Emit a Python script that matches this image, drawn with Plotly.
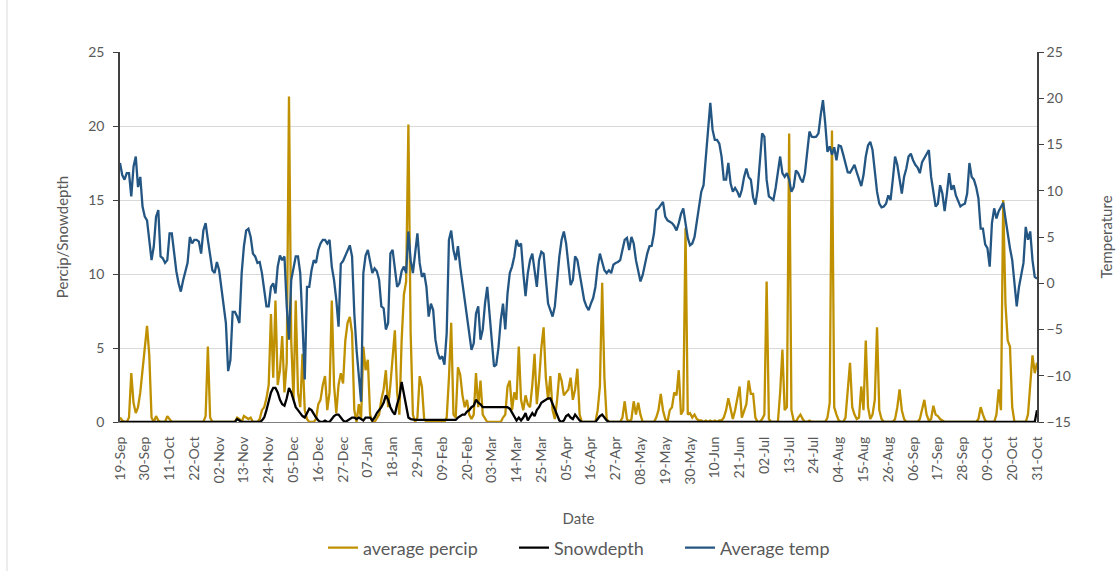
import pandas as pd
import plotly.graph_objects as go

# daily dates 19-Sep .. 31-Oct (next year), non-leap February
dates = pd.date_range("2017-09-19", "2018-10-31", freq="D")

tick_labels = ["19-Sep", "30-Sep", "11-Oct", "22-Oct", "02-Nov", "13-Nov", "24-Nov", "05-Dec",
               "16-Dec", "27-Dec", "07-Jan", "18-Jan", "29-Jan", "09-Feb", "20-Feb", "03-Mar",
               "14-Mar", "25-Mar", "05-Apr", "16-Apr", "27-Apr", "08-May", "19-May", "30-May",
               "10-Jun", "21-Jun", "02-Jul", "13-Jul", "24-Jul", "04-Aug", "15-Aug", "26-Aug",
               "06-Sep", "17-Sep", "28-Sep", "09-Oct", "20-Oct", "31-Oct"]

average_percip = [
    0.3, 0.1, 0, 0, 0.3, 3.3, 1.3, 0.6, 1.0, 2.0,
    3.5, 5.0, 6.5, 4.5, 0.3, 0, 0.4, 0.1, 0, 0,
    0, 0.4, 0.2, 0, 0, 0, 0, 0, 0, 0,
    0, 0, 0, 0, 0, 0, 0, 0, 0.4, 5.1,
    0.3, 0, 0, 0, 0, 0, 0, 0, 0, 0,
    0, 0, 0.3, 0.2, 0, 0.4, 0.3, 0.2, 0.3, 0,
    0, 0, 0.2, 0.8, 1.0, 1.6, 2.5, 7.3, 3.0, 8.2,
    2.5, 3.5, 5.8, 2.0, 4.0, 22.0, 5.5, 1.5, 8.2, 2.0,
    1.0, 4.6, 0.8, 0.2, 0, 0, 0, 0.2, 1.2, 1.5,
    2.5, 3.1, 0.8, 2.0, 8.2, 2.5, 0.6, 2.5, 3.3, 2.6,
    5.5, 6.7, 7.1, 6.0, 0.8, 0, 1.2, 0.2, 5.1, 3.5,
    4.2, 0.5, 0, 0, 0.3, 0.5, 1.5, 2.2, 3.5, 1.0,
    2.5, 4.5, 6.2, 2.0, 0.5, 5.5, 8.6, 9.5, 20.1, 6.0,
    0.5, 0, 0.3, 3.1, 2.4, 0.2, 0, 0, 0, 0,
    0, 0, 0, 0, 0, 0.3, 3.0, 6.7, 0.5, 0.3,
    3.7, 3.2, 1.8, 1.0, 1.5, 0.5, 0.2, 0.5, 3.3, 1.0,
    2.8, 0.5, 0.2, 0, 0, 0, 0, 0, 0, 0,
    0.3, 0.5, 2.4, 2.8, 0.8, 2.0, 1.5, 5.1, 1.5, 0.8,
    1.8, 1.2, 1.0, 2.5, 4.6, 1.2, 2.8, 5.0, 6.4, 3.0,
    1.5, 3.1, 0.8, 0.2, 1.5, 3.3, 2.8, 1.8, 2.0, 2.2,
    3.0, 1.5, 2.2, 3.6, 0.5, 0, 0, 0, 0, 0,
    0, 0, 0.8, 2.4, 9.4, 3.0, 0.2, 0, 0, 0,
    0, 0, 0, 0.3, 1.4, 0.2, 0, 0.2, 1.4, 0.5,
    1.3, 0.5, 0, 0, 0, 0, 0, 0, 0.3, 0.8,
    1.9, 0.8, 0.2, 0, 0.8, 1.0, 2.0, 1.8, 3.5, 0.5,
    0.8, 13.1, 0.5, 0.6, 0.3, 0.5, 0.2, 0.1, 0.1, 0,
    0.1, 0, 0.1, 0, 0.1, 0, 0.1, 0.1, 0.3, 0.8,
    1.6, 1.0, 0.2, 0.8, 1.5, 2.4, 0.3, 0.8, 1.2, 2.8,
    1.9, 1.9, 0.3, 0, 0, 0.2, 0.5, 9.5, 0.2, 0,
    0, 0, 0, 2.0, 4.9, 0.8, 1.0, 19.5, 0.8, 0.1,
    0, 0.3, 0.5, 0.2, 0, 0, 0.1, 0, 0, 0,
    0, 0, 0, 0, 0.3, 1.3, 19.7, 1.0, 0.5, 0.1,
    0, 0, 0.3, 2.5, 4.0, 1.0, 0.5, 0.2, 0.3, 2.4,
    0.8, 5.5, 1.0, 0.2, 0.5, 1.5, 6.4, 0.8, 0.2, 0,
    0, 0, 0, 0, 0.2, 1.0, 2.2, 0.8, 0.2, 0,
    0, 0, 0, 0, 0, 0.2, 0.8, 1.5, 0.5, 0.1,
    0.2, 1.1, 0.5, 0.4, 0.2, 0.1, 0, 0, 0, 0,
    0, 0, 0, 0, 0, 0, 0, 0, 0, 0,
    0, 0.2, 1.0, 0.5, 0.1, 0, 0, 0, 0, 0.5,
    2.2, 0.8, 15.0, 8.0, 5.5, 5.1, 1.0, 0, 0, 0,
    0, 0, 0, 0.5, 2.5, 4.5, 3.3, 4.0,
]

snowdepth = [
    0, 0, 0, 0, 0, 0, 0, 0, 0, 0,
    0, 0, 0, 0, 0, 0, 0, 0, 0, 0,
    0, 0, 0, 0, 0, 0, 0, 0, 0, 0,
    0, 0, 0, 0, 0, 0, 0, 0, 0, 0,
    0, 0, 0, 0, 0, 0, 0, 0, 0, 0,
    0, 0, 0.2, 0.1, 0, 0, 0, 0, 0, 0,
    0, 0, 0, 0.1, 0.3, 0.8, 1.5, 2.0, 2.3, 2.3,
    2.0, 1.5, 1.2, 1.1, 1.6, 2.3, 2.0, 1.5, 1.0, 0.8,
    0.6, 0.4, 0.3, 0.6, 0.9, 0.8, 0.5, 0.3, 0.1, 0,
    0, 0.1, 0, 0, 0.2, 0.4, 0.5, 0.5, 0.3, 0.1,
    0, 0.1, 0.2, 0.3, 0.3, 0.2, 0.3, 0.2, 0.1, 0.3,
    0.3, 0.3, 0.1, 0.3, 0.6, 0.8, 1.0, 1.3, 1.8, 1.5,
    1.0, 0.7, 0.5, 1.2, 1.7, 2.7, 1.9, 1.0, 0.3, 0.2,
    0.15, 0.15, 0.15, 0.15, 0.15, 0.15, 0.15, 0.15, 0.15, 0.15,
    0.15, 0.15, 0.15, 0.15, 0.15, 0.15, 0.15, 0.15, 0.15, 0.15,
    0.3, 0.4, 0.5, 0.5, 0.7, 0.8, 1.0, 1.1, 1.5, 1.3,
    1.2, 1.0, 1.0, 1.0, 1.0, 1.0, 1.0, 1.0, 1.0, 1.0,
    1.0, 1.0, 1.0, 0.9, 0.6, 0.3, 0.1, 0.3, 0.1, 0.3,
    0.6, 0.1, 0.4, 0.6, 0.4, 0.8, 1.0, 1.3, 1.4, 1.5,
    1.6, 1.6, 1.2, 0.8, 0.4, 0.1, 0, 0.1, 0.4, 0.5,
    0.3, 0.2, 0.5, 0.3, 0.1, 0, 0, 0, 0, 0,
    0, 0, 0.2, 0.4, 0.5, 0.3, 0.1, 0, 0, 0,
    0, 0, 0, 0, 0, 0, 0, 0, 0, 0,
    0, 0, 0, 0, 0, 0, 0, 0, 0, 0,
    0, 0, 0, 0, 0, 0, 0, 0, 0, 0,
    0, 0, 0, 0, 0, 0, 0, 0, 0, 0,
    0, 0, 0, 0, 0, 0, 0, 0, 0, 0,
    0, 0, 0, 0, 0, 0, 0, 0, 0, 0,
    0, 0, 0, 0, 0, 0, 0, 0, 0, 0,
    0, 0, 0, 0, 0, 0, 0, 0, 0, 0,
    0, 0, 0, 0, 0, 0, 0, 0, 0, 0,
    0, 0, 0, 0, 0, 0, 0, 0, 0, 0,
    0, 0, 0, 0, 0, 0, 0, 0, 0, 0,
    0, 0, 0, 0, 0, 0, 0, 0, 0, 0,
    0, 0, 0, 0, 0, 0, 0, 0, 0, 0,
    0, 0, 0, 0, 0, 0, 0, 0, 0, 0,
    0, 0, 0, 0, 0, 0, 0, 0, 0, 0,
    0, 0, 0, 0, 0, 0, 0, 0, 0, 0,
    0, 0, 0, 0, 0, 0, 0, 0, 0, 0,
    0, 0, 0, 0, 0, 0, 0, 0, 0, 0,
    0, 0, 0, 0, 0, 0, 0, 0.8,
]

average_temp = [
    13.0, 11.7, 11.2, 11.9, 11.9, 9.4, 12.6, 13.7, 10.4, 11.5,
    8.3, 7.2, 6.8, 4.7, 2.5, 4.0, 7.2, 7.9, 2.9, 2.7,
    2.2, 2.5, 5.4, 5.4, 3.2, 1.3, 0.0, -0.9, 0.3, 1.4,
    2.2, 5.0, 4.3, 4.7, 4.7, 4.5, 3.2, 5.7, 6.5, 4.7,
    2.9, 1.4, 1.1, 2.3, 1.4, -0.4, -2.5, -4.3, -9.5, -8.3,
    -3.1, -3.1, -3.6, -4.3, 1.1, 4.0, 5.7, 5.9, 5.0, 3.2,
    2.9, 2.2, 2.3, 1.1, -0.7, -2.5, -2.5, -0.4, 0.0, -1.1,
    1.8, 3.0, 2.5, 2.9, -2.5, -6.1, 0.35, 1.8, 2.9, 2.9,
    1.1, -4.3, -10.4, -0.4, -0.4, 1.4, 2.5, 2.2, 3.6, 4.3,
    4.7, 4.7, 4.3, 4.7, 1.8, 0.35, -1.8, -4.7, 2.1, 2.4,
    3.0, 3.6, 4.1, 2.9, -3.3, -7.2, -9.7, -12.8, 1.1, 3.0,
    3.6, 2.3, 1.1, 1.6, 1.3, 0.35, -2.5, -2.7, -5.0, -4.3,
    3.2, 3.6, 1.4, -0.4, 0.0, 1.3, 1.8, 1.1, 5.6, 2.5,
    1.1, 3.2, 5.4, 2.2, 0.7, 1.1, -0.4, -3.6, -2.2, -2.9,
    -6.1, -7.5, -8.2, -7.9, -8.8, -5.4, 4.7, 5.7, 3.6, 2.5,
    4.0, 1.8, 0.0, -2.2, -4.0, -5.8, -7.2, -6.5, -3.3, -2.5,
    -6.1, -5.0, -2.2, -0.4, -3.3, -6.1, -9.0, -8.8, -6.9, -4.0,
    -2.2, -5.0, -1.1, 1.1, 1.8, 2.9, 4.7, 4.0, 4.3, 1.1,
    -1.4, 1.1, 2.5, 3.2, 1.1, -0.4, 2.5, 3.4, 3.2, 0.35,
    -2.2, -2.9, -3.6, -2.5, 0.35, 2.9, 4.7, 5.6, 4.3, 2.2,
    -0.2, 0.35, 2.9, 2.5, 1.1, 0.0, -1.8, -2.5, -2.9, -2.2,
    -1.6, -0.4, 1.8, 3.2, 2.3, 1.4, 1.1, 1.4, 1.1, 2.0,
    2.2, 2.3, 2.5, 3.6, 4.7, 4.9, 3.6, 5.0, 4.3, 2.5,
    1.4, 0.2, 0.9, 2.2, 3.2, 4.0, 4.05, 5.4, 7.9, 8.1,
    8.5, 8.8, 7.2, 6.8, 6.65, 6.5, 6.2, 5.7, 6.5, 7.5,
    8.1, 6.5, 4.9, 4.1, 4.3, 5.0, 6.65, 8.3, 9.9, 10.6,
    13.3, 16.9, 19.5, 16.6, 15.5, 15.5, 15.1, 13.7, 11.2, 11.2,
    13.0, 10.8, 9.9, 10.3, 9.9, 9.3, 10.1, 11.5, 12.4, 11.5,
    11.2, 9.3, 8.5, 10.1, 13.3, 16.2, 15.85, 11.2, 9.4, 9.2,
    9.0, 10.3, 11.9, 13.7, 11.9, 11.5, 11.9, 11.2, 9.9, 10.4,
    12.2, 11.9, 11.3, 10.9, 11.9, 14.0, 16.4, 15.85, 15.8, 15.85,
    16.2, 18.2, 19.8, 17.3, 14.2, 14.8, 13.9, 14.7, 13.3, 14.9,
    14.8, 13.9, 12.8, 12.0, 11.95, 12.4, 12.8, 12.0, 11.2, 10.5,
    11.7, 13.7, 14.9, 15.3, 14.4, 11.9, 9.9, 8.6, 8.2, 8.3,
    8.6, 9.5, 9.0, 11.2, 13.7, 12.8, 11.0, 9.7, 11.5, 12.4,
    13.7, 14.0, 13.3, 12.8, 12.5, 11.9, 13.1, 13.5, 14.0, 14.4,
    11.5, 9.7, 8.3, 8.6, 10.6, 9.7, 7.8, 9.7, 11.9, 10.1,
    10.6, 9.5, 8.8, 8.3, 8.5, 8.6, 9.7, 13.0, 11.5, 11.2,
    10.4, 9.2, 5.9, 5.9, 4.2, 3.8, 1.8, 6.5, 8.1, 7.0,
    7.8, 8.3, 8.7, 7.0, 5.2, 3.8, 2.5, 0.35, -2.5, -0.4,
    1.1, 2.2, 6.1, 4.7, 5.6, 2.5, 0.7, 0.5,
]

n = len(dates)
assert len(average_percip) == n, len(average_percip)
assert len(snowdepth) == n, len(snowdepth)
assert len(average_temp) == n, len(average_temp)

FONT = "Lato, Open Sans, Liberation Sans, sans-serif"
GREY = "#595959"
W, H = 1119, 571
L, R, T, B = 120, 82, 52, 149
PW = W - L - R
PH = H - T - B


def px_x(px):
    return (px - L) / PW


def px_y(py):
    return (H - B - py) / PH


fig = go.Figure()
fig.add_trace(go.Scatter(x=dates, y=average_percip, name="average percip", mode="lines",
                         line=dict(color="#BF9000", width=2.3), legend="legend"))
fig.add_trace(go.Scatter(x=dates, y=snowdepth, name="Snowdepth", mode="lines",
                         line=dict(color="#000000", width=2.3), legend="legend2"))
fig.add_trace(go.Scatter(x=dates, y=average_temp, name="Average temp", mode="lines",
                         line=dict(color="#245683", width=2.3), yaxis="y2", legend="legend3"))

leg_common = dict(orientation="h", yanchor="middle", xanchor="left",
                  xref="container", yref="container",
                  font=dict(size=18, color=GREY, family=FONT), bgcolor="rgba(0,0,0,0)",
                  itemwidth=30)
LEG_Y = 1 - 548 / H

fig.update_layout(
    width=W, height=H,
    margin=dict(l=L, r=R, t=T, b=B, autoexpand=False),
    paper_bgcolor="white", plot_bgcolor="white",
    font=dict(family=FONT, size=13, color=GREY),
    showlegend=True,
    legend=dict(x=323 / W, y=LEG_Y, **leg_common),
    legend2=dict(x=514 / W, y=LEG_Y, **leg_common),
    legend3=dict(x=680 / W, y=LEG_Y, **leg_common),
    xaxis=dict(
        type="date", range=[dates[0], dates[-1]], automargin=False,
        tickvals=list(dates[::11]), ticktext=tick_labels, tickangle=-90,
        tickfont=dict(size=14, color=GREY), ticklabelstandoff=8,
        showgrid=False, zeroline=False,
        showline=True, linecolor="#7f7f7f", linewidth=1,
        ticks="",
        title=dict(text="Date", font=dict(size=15, color=GREY), standoff=29),
    ),
    yaxis=dict(
        range=[0, 25], dtick=5, tickfont=dict(size=14, color=GREY), automargin=False,
        ticklabelstandoff=6,
        showgrid=True, gridcolor="#D9D9D9", gridwidth=1, zeroline=False,
        showline=True, linecolor="#404040", linewidth=1.5,
        ticks="outside", ticklen=5, tickcolor="#404040",
        title=dict(text="Percip/Snowdepth", font=dict(size=15, color=GREY), standoff=16),
    ),
    yaxis2=dict(
        range=[-15, 25], dtick=5, overlaying="y", side="right", automargin=False,
        tickfont=dict(size=14, color=GREY),
        showgrid=False, zeroline=False,
        showline=True, linecolor="#404040", linewidth=1.5,
        ticks="outside", ticklen=5, tickcolor="#404040",
        title=dict(text="Temperature", font=dict(size=15, color=GREY), standoff=32),
    ),
)

# chart-area border line on the left, as in the reference
fig.add_shape(type="line", xref="paper", yref="paper",
              x0=px_x(7), x1=px_x(7), y0=px_y(571), y1=px_y(0),
              line=dict(color="#D9D9D9", width=1))

fig.write_html("out.html", config={"displayModeBar": False},
               post_script="document.body.style.margin='0';")
